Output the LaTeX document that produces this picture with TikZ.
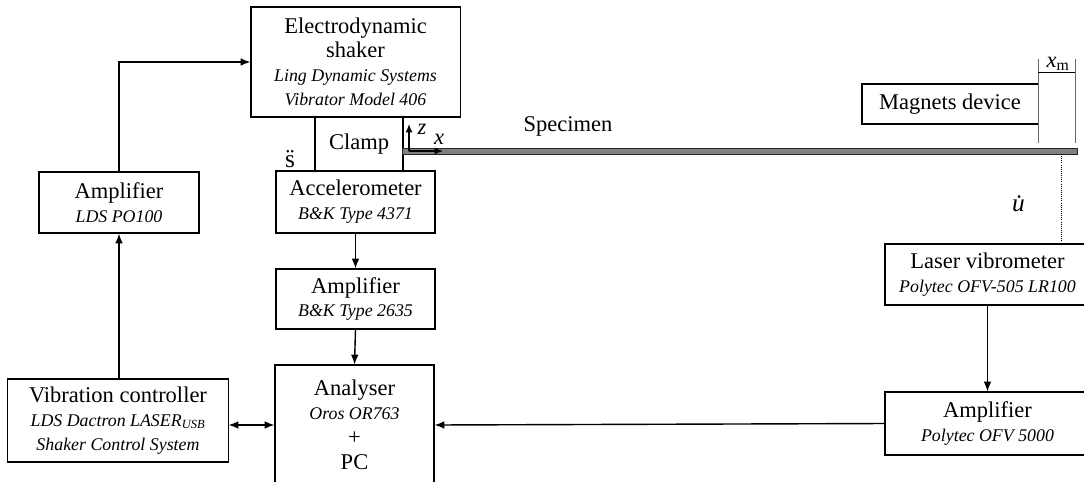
\documentclass[tikz,border=0pt]{standalone}
\usepackage{fontspec}
\setmainfont{Liberation Serif}
\usepackage{amsmath}
\usepackage{tikz}
\usetikzlibrary{positioning, arrows.meta}
\definecolor{beamgray}{RGB}{128, 128, 128}
\definecolor{markgray}{RGB}{105, 105, 105}
\tikzset{
    box/.style={draw, line width=0.75pt, align=center, inner sep=0pt, font=\fontsize{16}{17}\selectfont},
    lbl/.style={inner sep=0pt, font=\fontsize{16}{17}\selectfont},
    link/.style={->, line width=1pt}
}
\newcommand{\model}[1]{{\fontsize{12.7}{17}\selectfont\itshape #1}}

\begin{document}
\begin{tikzpicture}[x=0.025cm, y=-0.025cm, >={Latex[length=7pt, width=5.5pt]}]
    \useasboundingbox (0,0) rectangle (1084,481);

    % Shaker column
    \node[box, minimum width=5.225cm, minimum height=2.75cm] (shaker) at (355.5,62)
      {Electrodynamic\\shaker\\\model{Ling Dynamic Systems}\\\model{Vibrator Model 406}};
    \node[box, minimum width=2.2cm, minimum height=1.35cm] (clamp) at (359,144) {Clamp};
    \node[box, minimum width=3.975cm, minimum height=1.55cm] (accel) at (355.5,202)
      {Accelerometer\\\model{B\&K Type 4371}};
    \node[box, minimum width=3.975cm, minimum height=1.5cm] (ampbk) at (355.5,299)
      {Amplifier\\\model{B\&K Type 2635}};
    \node[box, minimum width=3.975cm, minimum height=3cm] (analyser) at (354.5,425)
      {Analyser\\\model{Oros OR763}\\[1pt]+\\[1pt]PC};

    % Left column
    \node[box, minimum width=4cm, minimum height=1.525cm] (amplds) at (119,202.5)
      {Amplifier\\\model{LDS PO100}};
    \node[box, minimum width=5.5cm, minimum height=2.075cm] (vibctrl) at (118,420.5)
      {Vibration controller\\\model{LDS Dactron LASER\textsubscript{USB}}\\\model{Shaker Control System}};

    % Right column
    \node[box, minimum width=4.4cm, minimum height=1cm] (magnets) at (950,104) {Magnets device};
    \node[box, minimum width=5.125cm, minimum height=1.525cm] (laser) at (987.5,274.5)
      {Laser vibrometer\\\model{Polytec OFV-505 LR100}};
    \node[box, minimum width=5.125cm, minimum height=1.575cm] (amppoly) at (987.5,423.5)
      {Amplifier\\\model{Polytec OFV 5000}};

    % Specimen
    \node[draw=black!85, fill=beamgray, line width=0.6pt, minimum width=16.85cm,
      minimum height=0.15cm, inner sep=0pt] (beam) at (740,151) {};
    \node[lbl] (spec) at (568,126) {Specimen};

    % Axes at the clamp
    \coordinate (origin) at (409,151);
    \draw[->, line width=0.9pt, >={Latex[length=6pt, width=5pt]}] (origin) -- ++(0,-27);
    \draw[->, line width=0.9pt, >={Latex[length=6pt, width=5pt]}] (origin) -- ++(34,0);
    \node[lbl] (zlab) at (422,129) {\textit{z}};
    \node[lbl] (xlab) at (439,139) {\textit{x}};

    % Gap to the magnets
    \coordinate (gapl) at (1038,59);
    \coordinate (gapr) at (1075,59);
    \draw[markgray, line width=0.7pt] (gapl) -- ++(0,84);
    \draw[markgray, line width=0.7pt] (gapr) -- ++(0,84);
    \draw[line width=0.5pt] ([yshift=-0.325cm]gapl) -- ([yshift=-0.325cm]gapr);
    \node[lbl] (xm) at (1058,64) {\textit{x}\textsubscript{m}};

    % Measured signals
    \node[lbl, font=\fontsize{18}{18}\selectfont] (sdd) at (290,159) {\"{s}};
    \node[lbl, font=\fontsize{18}{18}\selectfont] (ud) at (1022,204) {\textit{\.{u}}};
    \coordinate (spot) at (1061,154);
    \draw[densely dotted, line width=0.5pt] (spot) -- (spot |- laser.north);

    % Signal paths
    \draw[link] (amplds.north) |- (shaker.west);
    \draw[link] (amplds.south |- vibctrl.north) -- (amplds.south);
    \draw[link] (accel.south) -- (ampbk.north);
    \draw[link] (ampbk.south) -- (analyser.north);
    \draw[<->, line width=1pt] (analyser.west -| vibctrl.east) -- (analyser.west);
    \draw[link] (laser.south) -- (amppoly.north);
    \draw[link] (amppoly.west) -- (analyser.east);
\end{tikzpicture}
\end{document}
